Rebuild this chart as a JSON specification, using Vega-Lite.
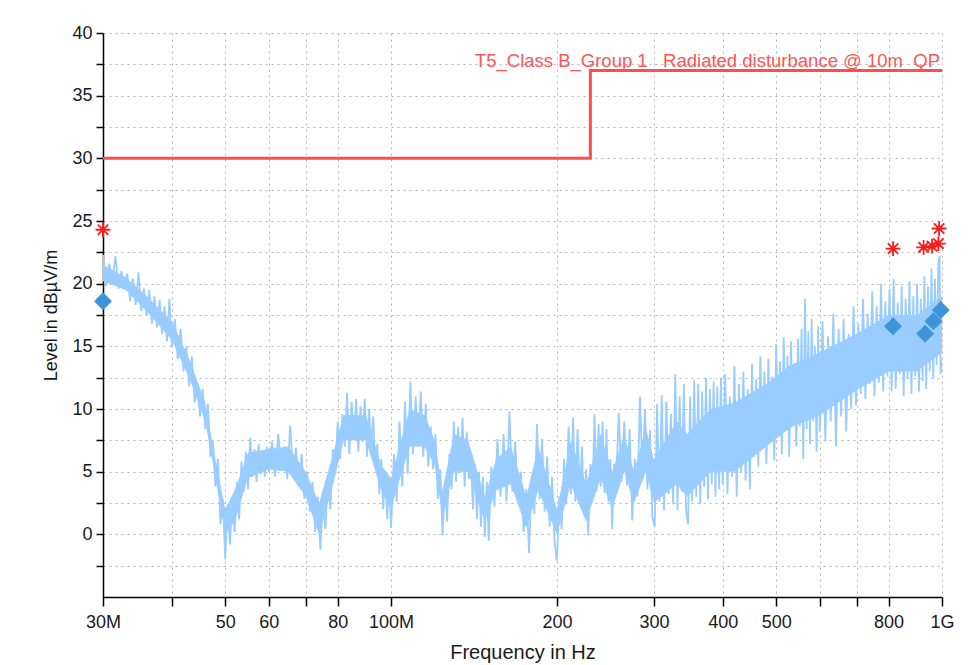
{
  "$schema": "https://vega.github.io/schema/vega-lite/v6.json",
  "width": 839,
  "height": 564,
  "autosize": "none",
  "padding": {"left": 103, "top": 33, "right": 29, "bottom": 68},
  "background": "white",
  "config": {
    "view": {"stroke": null},
    "font": "Liberation Sans",
    "axis": {
      "grid": true,
      "gridColor": "#b5b5b5",
      "gridDash": [2, 4],
      "gridWidth": 1,
      "domainColor": "#000000",
      "domainWidth": 1.5,
      "tickColor": "#000000",
      "tickWidth": 1.5,
      "labelFont": "Liberation Sans",
      "labelFontSize": 18,
      "labelColor": "#1a1a1a",
      "labelFlush": false,
      "labelOverlap": false,
      "titleFont": "Liberation Sans",
      "titleFontWeight": "normal",
      "titleColor": "#1a1a1a"
    }
  },
  "datasets": {
    "core": [
      {"f":30,"v":20.2,"v2":21.5},{"f":33,"v":19.5,"v2":20.5},{"f":36,"v":17.8,"v2":19},{"f":40,"v":15.5,"v2":17},{"f":43,"v":12.5,"v2":14},
      {"f":46,"v":9,"v2":10.5},{"f":48,"v":4.5,"v2":6},{"f":50,"v":0,"v2":2},{"f":52,"v":1,"v2":3.5},{"f":55,"v":4.5,"v2":6.5},
      {"f":60,"v":5.2,"v2":6.8},{"f":65,"v":5,"v2":7},{"f":70,"v":3,"v2":5},{"f":74,"v":0,"v2":2.5},{"f":78,"v":3.5,"v2":6},
      {"f":82,"v":7.5,"v2":9.5},{"f":90,"v":7.5,"v2":9.5},{"f":96,"v":3.5,"v2":5.5},{"f":100,"v":2,"v2":4.5},{"f":108,"v":7,"v2":10},
      {"f":115,"v":7,"v2":9.5},{"f":120,"v":5.5,"v2":7.5},{"f":124,"v":1.5,"v2":3.5},{"f":130,"v":5,"v2":8},{"f":138,"v":5,"v2":7.5},
      {"f":148,"v":1,"v2":3},{"f":155,"v":3.5,"v2":6},{"f":165,"v":4,"v2":7},{"f":176,"v":0.5,"v2":3},{"f":185,"v":3.5,"v2":7},
      {"f":200,"v":0,"v2":2},{"f":212,"v":4,"v2":7.5},{"f":226,"v":1,"v2":4},{"f":240,"v":4.5,"v2":8},{"f":252,"v":2,"v2":5},
      {"f":265,"v":5,"v2":8},{"f":276,"v":2.5,"v2":5},{"f":290,"v":5,"v2":8.5},{"f":300,"v":2.5,"v2":6},{"f":330,"v":4,"v2":9},
      {"f":345,"v":3,"v2":8},{"f":380,"v":5,"v2":10},{"f":420,"v":5,"v2":10.5},{"f":480,"v":7,"v2":12},{"f":530,"v":8.5,"v2":13.5},
      {"f":600,"v":9.5,"v2":14.5},{"f":700,"v":11.5,"v2":16},{"f":800,"v":13,"v2":17.5},{"f":900,"v":13,"v2":17.5},{"f":1000,"v":14.5,"v2":19}
    ],
    "trace": [
      {"f":30,"v":22.3},{"f":30.4,"v":19.8},{"f":30.8,"v":21.6},{"f":31.2,"v":20.2},{"f":31.6,"v":22.2},{"f":32,"v":19.6},{"f":32.4,"v":21},{"f":32.8,"v":19.9},{"f":33.2,"v":20.8},{"f":33.6,"v":18.6},
      {"f":34,"v":20.4},{"f":34.4,"v":18.3},{"f":34.8,"v":20.9},{"f":35.2,"v":17.8},{"f":35.6,"v":19.6},{"f":36,"v":17.4},{"f":36.4,"v":19.5},{"f":36.8,"v":16.8},{"f":37.2,"v":19},{"f":37.6,"v":16.5},
      {"f":38,"v":18.7},{"f":38.4,"v":16},{"f":38.8,"v":18.2},{"f":39.2,"v":15.4},{"f":39.6,"v":18.8},{"f":40,"v":15},{"f":40.5,"v":17.2},{"f":41,"v":14},{"f":41.5,"v":16.4},{"f":42,"v":13},
      {"f":42.5,"v":15},{"f":43,"v":11.8},{"f":43.5,"v":14.2},{"f":44,"v":10.5},{"f":44.5,"v":12},{"f":45,"v":9.4},{"f":45.5,"v":11.6},{"f":46,"v":8.4},{"f":46.5,"v":10.4},{"f":47,"v":6.2},
      {"f":47.5,"v":7.4},{"f":48,"v":3.8},{"f":48.5,"v":6},{"f":49,"v":0.8},{"f":49.5,"v":2.8},{"f":50,"v":-2},{"f":50.5,"v":2.4},{"f":51,"v":-0.8},{"f":51.5,"v":3},{"f":52,"v":0.2},
      {"f":52.5,"v":4.2},{"f":53,"v":1.2},{"f":53.5,"v":5.8},{"f":54,"v":3.4},{"f":54.5,"v":6.6},{"f":55,"v":3.6},{"f":55.5,"v":7.7},{"f":56,"v":4.6},{"f":56.5,"v":6.8},{"f":57,"v":4.2},
      {"f":57.5,"v":7.2},{"f":58,"v":4.8},{"f":58.5,"v":6.4},{"f":59,"v":4.6},{"f":59.5,"v":7},{"f":60,"v":5},{"f":60.8,"v":7.4},{"f":61.6,"v":4.6},{"f":62.4,"v":8},{"f":63.2,"v":5.2},
      {"f":64,"v":7},{"f":64.8,"v":4.4},{"f":65.6,"v":8.7},{"f":66.4,"v":4.8},{"f":67.2,"v":6.9},{"f":68,"v":3.8},{"f":68.8,"v":6.4},{"f":69.6,"v":2.8},{"f":70.4,"v":5},{"f":71.2,"v":1.8},
      {"f":72,"v":4.2},{"f":72.8,"v":0.2},{"f":73.6,"v":3},{"f":74.4,"v":-1.2},{"f":75.2,"v":2.6},{"f":76,"v":0.4},{"f":76.8,"v":4.6},{"f":77.6,"v":2},{"f":78.4,"v":6.8},{"f":79.2,"v":4.8},
      {"f":80,"v":9},{"f":80.8,"v":6},{"f":81.6,"v":9.6},{"f":82.4,"v":7},{"f":83.2,"v":11.3},{"f":84,"v":6.4},{"f":84.8,"v":10.6},{"f":85.6,"v":7.6},{"f":86.4,"v":10.8},{"f":87.2,"v":6.6},
      {"f":88,"v":10.2},{"f":88.8,"v":7.4},{"f":89.6,"v":10.8},{"f":90.4,"v":6.2},{"f":91.2,"v":10},{"f":92,"v":7},{"f":92.8,"v":9.4},{"f":93.6,"v":5.6},{"f":94.4,"v":7.2},{"f":95.2,"v":3.2},
      {"f":96,"v":6},{"f":96.8,"v":2},{"f":97.6,"v":5},{"f":98.4,"v":1.2},{"f":99.2,"v":4.4},{"f":100,"v":0.5},{"f":101.2,"v":6.4},{"f":102.4,"v":2.6},{"f":103.6,"v":9},{"f":104.8,"v":3.8},
      {"f":106,"v":10.6},{"f":107.2,"v":4.8},{"f":108.4,"v":12.2},{"f":109.6,"v":6.4},{"f":110.8,"v":11},{"f":112,"v":7},{"f":113.2,"v":11.4},{"f":114.4,"v":6.2},{"f":115.6,"v":10.4},{"f":116.8,"v":5.4},
      {"f":118,"v":8.6},{"f":119.2,"v":5.2},{"f":120.4,"v":8},{"f":121.6,"v":2.8},{"f":122.8,"v":5.2},{"f":124,"v":-0.1},{"f":125.2,"v":4},{"f":126.4,"v":1},{"f":127.6,"v":6.4},{"f":128.8,"v":3.6},
      {"f":130,"v":9},{"f":131.2,"v":4.2},{"f":132.4,"v":8.6},{"f":133.6,"v":4.9},{"f":134.8,"v":9.3},{"f":136,"v":3.8},{"f":137.2,"v":8.2},{"f":138.4,"v":4.4},{"f":139.6,"v":6},{"f":140.8,"v":2},
      {"f":142,"v":5.6},{"f":143.2,"v":1.2},{"f":144.4,"v":5},{"f":145.6,"v":0.6},{"f":146.8,"v":4.6},{"f":148,"v":-0.2},{"f":149.2,"v":4.2},{"f":150.4,"v":-0.5},{"f":152,"v":5.4},{"f":154,"v":2.2},
      {"f":156,"v":7.6},{"f":158,"v":3},{"f":160,"v":8},{"f":162,"v":2.6},{"f":164,"v":9.8},{"f":166,"v":3.4},{"f":168,"v":7.4},{"f":170,"v":2.4},{"f":172,"v":5},{"f":174,"v":0.2},
      {"f":176,"v":3.6},{"f":178,"v":-1.5},{"f":180,"v":4.6},{"f":182,"v":1.6},{"f":184,"v":8.8},{"f":186,"v":2.8},{"f":188,"v":7.6},{"f":190,"v":1.8},{"f":192,"v":6.2},{"f":194,"v":0.6},
      {"f":196,"v":4.6},{"f":198,"v":-0.6},{"f":200,"v":-2.1},{"f":202,"v":3},{"f":204,"v":0.4},{"f":206,"v":6},{"f":208,"v":2.4},{"f":210,"v":8.6},{"f":212,"v":3.2},{"f":214,"v":9.3},
      {"f":216,"v":2.6},{"f":218,"v":8.4},{"f":220,"v":3},{"f":222,"v":7},{"f":224,"v":2},{"f":226,"v":5.2},{"f":228,"v":-0.1},{"f":230,"v":5.6},{"f":232,"v":3},{"f":234,"v":9.6},
      {"f":236,"v":3.4},{"f":238,"v":8.8},{"f":240,"v":3.8},{"f":242,"v":9},{"f":244,"v":3.3},{"f":246,"v":8.4},{"f":248,"v":2.6},{"f":250,"v":6},{"f":252,"v":0.4},{"f":254,"v":5.6},
      {"f":256,"v":3.9},{"f":259,"v":9.7},{"f":262,"v":4.2},{"f":265,"v":9},{"f":268,"v":3.9},{"f":271,"v":8.4},{"f":274,"v":1.1},{"f":277,"v":6},{"f":280,"v":3},{"f":283,"v":11},
      {"f":286,"v":4.7},{"f":289,"v":10},{"f":292,"v":3.6},{"f":295,"v":8.3},{"f":298,"v":1.4},{"f":301,"v":0.6},{"f":304,"v":10.4},{"f":307,"v":2.6},{"f":310,"v":11.1},{"f":313,"v":1.9},
      {"f":316,"v":10.6},{"f":319,"v":3.2},{"f":322,"v":9.6},{"f":325,"v":2.4},{"f":328,"v":12.8},{"f":331,"v":1.9},{"f":334,"v":11},{"f":337,"v":3.4},{"f":340,"v":12},{"f":343,"v":2},
      {"f":346,"v":0.8},{"f":349,"v":11},{"f":352,"v":2.6},{"f":355,"v":12.3},{"f":358,"v":3},{"f":361,"v":12},{"f":364,"v":2.4},{"f":367,"v":11.4},{"f":370,"v":3.8},{"f":373,"v":12.5},
      {"f":376,"v":2.8},{"f":379,"v":11.6},{"f":382,"v":4},{"f":385,"v":12.2},{"f":388,"v":3},{"f":391,"v":11.8},{"f":394,"v":3.6},{"f":397,"v":12.5},{"f":400,"v":4},{"f":404,"v":12.8},
      {"f":408,"v":3.2},{"f":412,"v":11},{"f":416,"v":4.6},{"f":420,"v":13.4},{"f":424,"v":3},{"f":428,"v":12},{"f":432,"v":5},{"f":436,"v":13},{"f":440,"v":4.3},{"f":444,"v":11.6},
      {"f":448,"v":3.6},{"f":452,"v":13.6},{"f":456,"v":6.2},{"f":460,"v":12.4},{"f":464,"v":5.4},{"f":468,"v":14.2},{"f":472,"v":6.8},{"f":476,"v":13},{"f":480,"v":5.6},{"f":484,"v":14},
      {"f":488,"v":7.4},{"f":492,"v":12.6},{"f":496,"v":5.9},{"f":500,"v":15.2},{"f":504,"v":8},{"f":508,"v":13.8},{"f":512,"v":6.4},{"f":516,"v":15.7},{"f":520,"v":8.6},{"f":524,"v":14.2},
      {"f":528,"v":6.2},{"f":532,"v":15.4},{"f":536,"v":9},{"f":540,"v":13.6},{"f":544,"v":7},{"f":548,"v":15.6},{"f":552,"v":8.6},{"f":556,"v":16.4},{"f":560,"v":6},{"f":564,"v":18.8},
      {"f":568,"v":8.4},{"f":572,"v":16.2},{"f":576,"v":7.2},{"f":580,"v":17.2},{"f":584,"v":9},{"f":588,"v":15},{"f":592,"v":6.6},{"f":596,"v":16.6},{"f":600,"v":8.2},{"f":607,"v":17},
      {"f":614,"v":7.4},{"f":621,"v":15.8},{"f":628,"v":9},{"f":635,"v":17.6},{"f":642,"v":7},{"f":649,"v":16.4},{"f":656,"v":9.4},{"f":663,"v":17.2},{"f":670,"v":8.2},{"f":677,"v":16},
      {"f":684,"v":10},{"f":691,"v":18.2},{"f":698,"v":10.3},{"f":705,"v":16.8},{"f":712,"v":11.2},{"f":719,"v":18.8},{"f":726,"v":10.8},{"f":733,"v":17.6},{"f":740,"v":12},{"f":747,"v":19.4},
      {"f":754,"v":11},{"f":761,"v":18.2},{"f":768,"v":12.1},{"f":775,"v":20},{"f":782,"v":11.4},{"f":789,"v":18.6},{"f":796,"v":12.6},{"f":803,"v":19.6},{"f":810,"v":11.4},{"f":817,"v":20.4},
      {"f":824,"v":11.6},{"f":831,"v":18.5},{"f":838,"v":12.8},{"f":845,"v":19.8},{"f":852,"v":11},{"f":859,"v":18.8},{"f":866,"v":12.4},{"f":873,"v":20.2},{"f":880,"v":11.2},{"f":887,"v":19},
      {"f":894,"v":12.6},{"f":901,"v":20},{"f":908,"v":11.4},{"f":915,"v":18.8},{"f":922,"v":12.2},{"f":929,"v":20.6},{"f":936,"v":11.6},{"f":943,"v":19.8},{"f":950,"v":13},{"f":957,"v":21.2},
      {"f":964,"v":12.4},{"f":971,"v":20.4},{"f":978,"v":13.5},{"f":985,"v":21.6},{"f":990,"v":22.2},{"f":994,"v":12.8},{"f":1000,"v":14}
    ],
    "limit": [{"f":30,"v":30},{"f":230,"v":37},{"f":1000,"v":37}],
    "qp": [{"f":30,"v":18.6},{"f":815,"v":16.6},{"f":932,"v":16.0},{"f":965,"v":17.0},{"f":995,"v":17.9}],
    "pk": [{"f":30,"v":24.3},{"f":815,"v":22.8},{"f":926,"v":22.9},{"f":959,"v":23.0},{"f":985,"v":23.2},{"f":988,"v":24.4}],
    "lbl": [{"f":1000,"v":37,"t":"T5_Class B_Group 1_ Radiated disturbance @ 10m_QP"}]
  },
  "encoding": {
    "x": {
      "field": "f",
      "type": "quantitative",
      "scale": {"type": "log", "domain": [30, 1000], "nice": false, "zero": false},
      "title": "Frequency in Hz",
      "axis": {
        "values": [30, 40, 50, 60, 70, 80, 100, 200, 300, 400, 500, 600, 700, 800, 1000],
        "labelExpr": "datum.value == 30 ? '30M' : datum.value == 100 ? '100M' : datum.value == 1000 ? '1G' : (datum.value == 40 || datum.value == 70 || datum.value == 600 || datum.value == 700) ? '' : '' + datum.value",
        "tickSize": 9,
        "labelPadding": 7,
        "titleFontSize": 20,
        "titlePadding": 11
      }
    },
    "y": {
      "field": "v",
      "type": "quantitative",
      "scale": {"domain": [-5, 40], "nice": false, "zero": false},
      "title": "Level in dBµV/m",
      "axis": {
        "values": [-2.5, 0, 2.5, 5, 7.5, 10, 12.5, 15, 17.5, 20, 22.5, 25, 27.5, 30, 32.5, 35, 37.5, 40],
        "labelExpr": "datum.value >= 0 && datum.value % 5 == 0 ? '' + datum.value : ''",
        "tickSize": 7,
        "labelPadding": 4,
        "titleFontSize": 18,
        "titlePadding": 11
      }
    }
  },
  "layer": [
    {"data": {"name": "core"}, "mark": {"type": "area", "color": "#99ccff", "opacity": 1, "clip": true}, "encoding": {"y2": {"field": "v2"}}},
    {"data": {"name": "trace"}, "mark": {"type": "line", "color": "#99ccff", "strokeWidth": 1.8, "clip": true}},
    {"data": {"name": "limit"}, "mark": {"type": "line", "color": "#ff4d4d", "strokeWidth": 3, "interpolate": "step-after"}},
    {"data": {"name": "qp"}, "mark": {"type": "point", "shape": "diamond", "filled": true, "size": 320, "color": "#3b95d8", "opacity": 1}},
    {"data": {"name": "pk"}, "mark": {"type": "point", "shape": "M-1,0L1,0M0,-1L0,1M-0.7,-0.7L0.7,0.7M-0.7,0.7L0.7,-0.7", "filled": false, "size": 220, "stroke": "#ff1a1a", "strokeWidth": 1.8, "opacity": 1}},
    {"data": {"name": "lbl"}, "mark": {"type": "text", "align": "right", "baseline": "alphabetic", "dx": -2, "dy": -4, "font": "Liberation Sans", "fontSize": 18.5, "color": "#ff5555"}, "encoding": {"text": {"field": "t"}}}
  ]
}
